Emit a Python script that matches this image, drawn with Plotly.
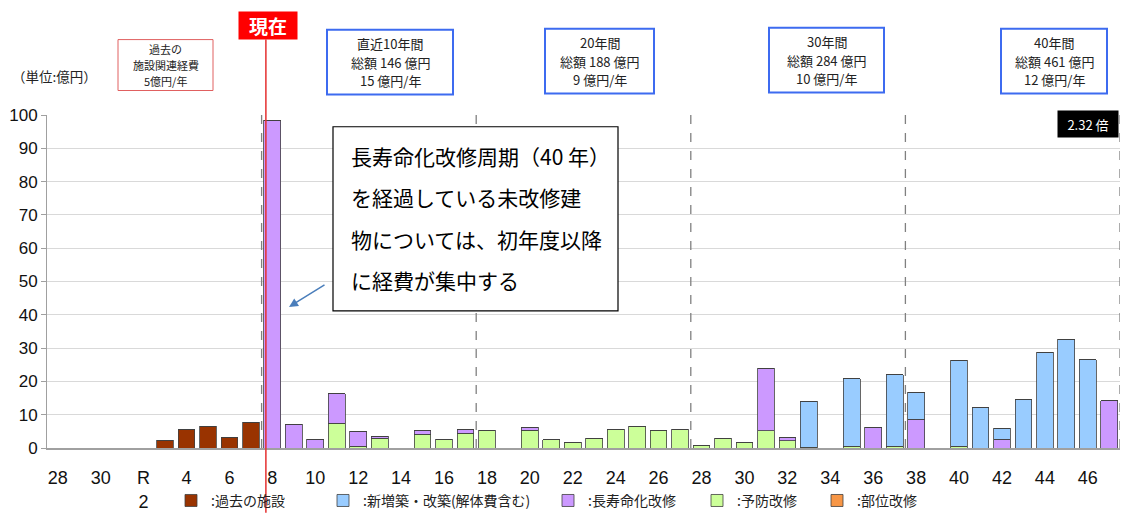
import plotly.graph_objects as go

# ---------------- data ----------------
years = ["28", "29", "30", "R1", "R2"] + [str(n) for n in range(3, 48)]
tick_labels = ["28", "30", "R<br>2"] + [str(n) for n in range(4, 47, 2)]

past = [0, 0, 0, 0, 0, 2.3, 5.6, 6.5, 3.2, 7.7,
        0, 0, 0, 0, 0, 0, 0, 0, 0, 0,
        0, 0, 0, 0, 0, 0, 0, 0, 0, 0,
        0, 0, 0, 0, 0, 0, 0, 0, 0, 0,
        0, 0, 0, 0, 0, 0, 0, 0, 0, 0]
preventive = [0, 0, 0, 0, 0, 0, 0, 0, 0, 0,
              0, 0, 0, 7.4, 0.5, 2.9, 0, 4.1, 2.6, 4.4,
              5.3, 0, 5.3, 2.5, 1.8, 3.0, 5.7, 6.5, 5.4, 5.7,
              0.7, 2.9, 1.6, 5.2, 2.2, 0.3, 0, 0.5, 0, 0.5,
              0, 0, 0.5, 0, 0, 0, 0, 0, 0, 0]
longlife = [0, 0, 0, 0, 0, 0, 0, 0, 0, 0,
            98.5, 7.1, 2.6, 8.9, 4.5, 0.7, 0, 1.3, 0, 1.2,
            0, 0, 0.9, 0, 0, 0, 0, 0, 0, 0,
            0, 0, 0, 18.8, 0.9, 0, 0, 0, 6.3, 0,
            8.7, 0, 0, 0, 2.6, 0, 0, 0, 0, 14.2]
newbuild = [0, 0, 0, 0, 0, 0, 0, 0, 0, 0,
            0, 0, 0, 0, 0, 0, 0, 0, 0, 0,
            0, 0, 0, 0, 0, 0, 0, 0, 0, 0,
            0, 0, 0, 0, 0, 13.8, 0, 20.3, 0, 21.5,
            8.1, 0, 25.8, 12.1, 3.3, 14.6, 28.8, 32.6, 26.5, 0]
partial = [0] * 50

period_bounds = [9.5, 19.5, 29.5, 39.5, 49.5]
now_pos = 9.7

past_box_lines = ["過去の", "施設関連経費", "5億円/年"]
period_box_lines = [
    ["直近10年間", "総額 146 億円", "15 億円/年"],
    ["20年間", "総額 188 億円", "9 億円/年"],
    ["30年間", "総額 284 億円", "10 億円/年"],
    ["40年間", "総額 461 億円", "12 億円/年"],
]
callout = ["長寿命化改修周期（40 年）", "を経過している未改修建", "物については、初年度以降", "に経費が集中する"]

# ---------------- layout helpers ----------------
W, H = 1123, 520
L, R, T, B = 47, 1120, 115, 455


def px(x):
    return (x - L) / (R - L)


def py(y):
    return (B - y) / (B - T)


xs = list(range(len(years)))
outline = dict(color="#404040", width=0.8)
JP = "Noto Sans CJK JP"


def nz(v):
    return [a if a else None for a in v]


fig = go.Figure()
fig.add_bar(x=xs, y=nz(preventive), name=":予防改修", marker=dict(color="#ccff99", line=outline),
            legend="legend4", width=0.78)
fig.add_bar(x=xs, y=nz(longlife), name=":長寿命化改修", marker=dict(color="#cc99ff", line=outline),
            legend="legend3", width=0.78)
fig.add_bar(x=xs, y=nz(newbuild), name=":新増築・改築(解体費含む)", marker=dict(color="#99ccff", line=outline),
            legend="legend2", width=0.78)
fig.add_bar(x=xs, y=nz(past), name=":過去の施設", marker=dict(color="#993300", line=outline),
            legend="legend", width=0.78)
fig.add_bar(x=xs, y=partial, name=":部位改修", marker=dict(color="#f79646", line=outline),
            legend="legend5", width=0.78)

# dashed period lines
for b in period_bounds:
    fig.add_shape(type="line", x0=b, x1=b, xref="x", y0=0, y1=1, yref="paper",
                  line=dict(color="#808080", width=1.3, dash="dash"))
# current-year red line
fig.add_shape(type="line", x0=now_pos, x1=now_pos, xref="x", y0=py(521), y1=py(38), yref="paper",
              line=dict(color="#e53030", width=1.5))

ann = []
# 現在 label
ann.append(dict(x=px(268), y=py(24), xref="paper", yref="paper", text="<b>現在</b>", showarrow=False,
                font=dict(family=JP, size=19, color="white"), bgcolor="#ff0000",
                width=56, height=25, borderpad=1, xanchor="center", yanchor="middle"))
# unit
ann.append(dict(x=px(10), y=py(75), xref="paper", yref="paper", text="（単位:億円）", showarrow=False,
                font=dict(family=JP, size=13.5, color="#222"), xanchor="left", yanchor="middle"))

# past box
fig.add_shape(type="rect", xref="paper", yref="paper", x0=px(118), x1=px(213), y0=py(90), y1=py(38),
              line=dict(color="#e06060", width=1), fillcolor="white")
for i, t in enumerate(past_box_lines):
    ann.append(dict(x=px(165.5), y=py(48 + i * 16), xref="paper", yref="paper", text=t,
                    showarrow=False, font=dict(family=JP, size=11, color="#222"),
                    xanchor="center", yanchor="middle"))

# period boxes
box_geom = [(327, 453, 28, 94), (545, 654, 27, 93), (769, 884, 26, 92), (1001, 1107, 27, 93)]
for (x0, x1, y0, y1), lines in zip(box_geom, period_box_lines):
    fig.add_shape(type="rect", xref="paper", yref="paper", x0=px(x0), x1=px(x1), y0=py(y1), y1=py(y0),
                  line=dict(color="#3d6bf0", width=2), fillcolor="white")
    cy = (y0 + y1) / 2
    for i, t in enumerate(lines):
        ann.append(dict(x=px((x0 + x1) / 2), y=py(cy - 19 + i * 19), xref="paper", yref="paper",
                        text=t, showarrow=False, font=dict(family=JP, size=13, color="#222"),
                        xanchor="center", yanchor="middle"))

# ratio box
ann.append(dict(x=px(1088), y=py(124), xref="paper", yref="paper", text="2.32 倍", showarrow=False,
                font=dict(family=JP, size=13, color="white"), bgcolor="black",
                width=58, height=24, borderpad=1, xanchor="center", yanchor="middle"))

# callout box
fig.add_shape(type="rect", xref="paper", yref="paper", x0=px(333), x1=px(618), y0=py(315), y1=py(127),
              line=dict(color="black", width=1.2), fillcolor="white", layer="above")
for i, line in enumerate(callout):
    ann.append(dict(x=px(349), y=py(157 + i * 42.2), xref="paper", yref="paper", text=line,
                    showarrow=False, font=dict(family=JP, size=21, color="black"),
                    xanchor="left", yanchor="middle"))
# arrow
ann.append(dict(x=px(289), y=py(311), xref="paper", yref="paper", text="", showarrow=True,
                ax=37, ay=-23, arrowhead=2, arrowsize=1.2, arrowwidth=1.5, arrowcolor="#4a7ebb"))

leg_font = dict(family=JP, size=14, color="#222")
legends = {}
for i, cx in enumerate([191, 343, 568, 717, 837]):
    key = "legend" if i == 0 else f"legend{i+1}"
    legends[key] = dict(x=px(cx - 20), y=py(509), xanchor="left", yanchor="middle",
                        orientation="h", font=leg_font, bgcolor="rgba(0,0,0,0)",
                        itemwidth=30, tracegroupgap=0)

fig.update_layout(
    width=W, height=H, margin=dict(l=L, r=W - R, t=T, b=H - B),
    paper_bgcolor="white", plot_bgcolor="white",
    barmode="stack", bargap=0.2,
    showlegend=True,
    annotations=ann,
    font=dict(family="Liberation Sans", color="#111"),
    xaxis=dict(range=[-0.5, 49.5], tickmode="array", tickvals=list(range(0, 50, 2)),
               ticktext=tick_labels, showgrid=False, showline=True, linecolor="#a0a0a0",
               linewidth=1.5, ticks="", ticklabelstandoff=13,
               tickfont=dict(family="Liberation Sans", size=18, color="#111"),
               zeroline=False, fixedrange=True),
    yaxis=dict(range=[0, 100], dtick=10, showgrid=True, gridcolor="#d9d9d9", gridwidth=1,
               showline=True, linecolor="#a0a0a0", linewidth=1, ticks="outside", ticklen=5,
               tickcolor="#a0a0a0", tickfont=dict(family="Liberation Sans", size=17, color="#111"),
               zeroline=False, fixedrange=True),
    **legends,
)

fig.write_html("out.html")
